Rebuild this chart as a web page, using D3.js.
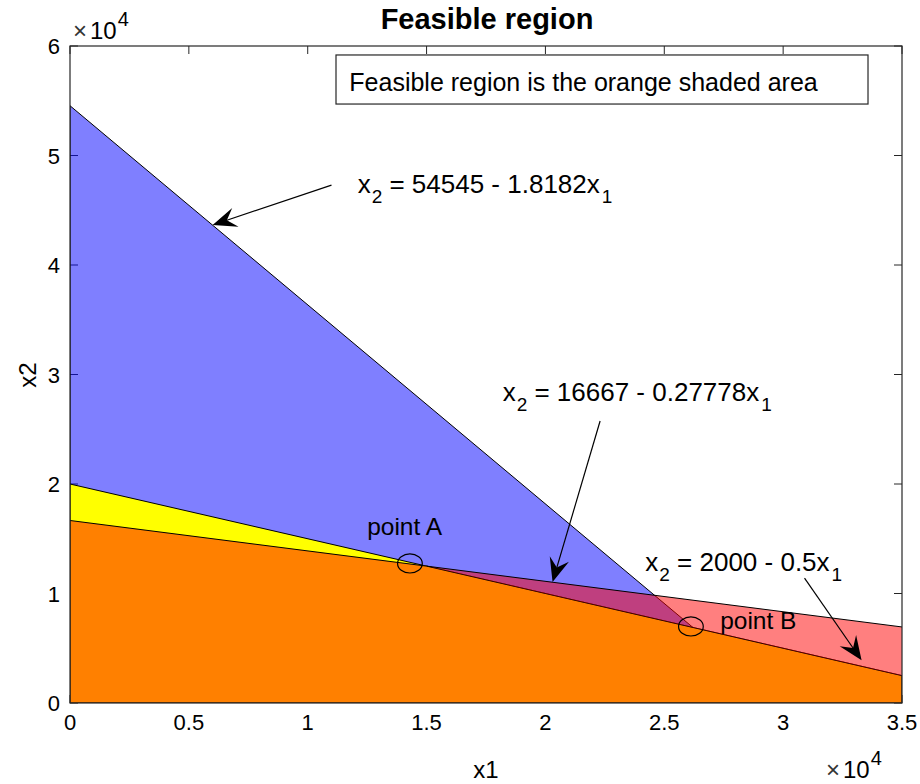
<!DOCTYPE html>
<html>
<head>
<meta charset="utf-8">
<script src="https://cdn.jsdelivr.net/npm/d3@7"></script>
<style>
  body { margin: 0; background: #fff; }
  text { font-family: "Liberation Sans", Arial, Helvetica, sans-serif; fill: #000; }
</style>
</head>
<body>
<svg id="chart"></svg>
<script>
// axis ticks
const xTicks = [0, 5000, 10000, 15000, 20000, 25000, 30000, 35000];
const xTickLabels = ['0', '0.5', '1', '1.5', '2', '2.5', '3', '3.5'];
const yTicks = [0, 10000, 20000, 30000, 40000, 50000, 60000];
const yTickLabels = ['0', '1', '2', '3', '4', '5', '6'];

// constraint lines x2 = intercept + slope * x1
const lineIntercepts = [54545, 16667, 20000];
const lineSlopes = [-1.8182, -0.27778, -0.5];
const lineLabels = ['54545 - 1.8182', '16667 - 0.27778', '2000 - 0.5'];
const labelX = [12100, 18200, 24200];
const labelY = [46600, 27600, 12050];
const arrowTailX = [11000, 22300, 30900];
const arrowTailY = [47300, 25750, 11400];
const arrowHeadX = [6000, 20300, 33300];
const arrowHeadY = [43650, 11050, 3900];

// corner points
const pointNames = ['point A', 'point B'];
const pointX = [14300, 26120];
const pointY = [12740, 6990];
const pointLabelX = [12500, 27350];
const pointLabelY = [15300, 6800];

const W = 920, H = 784;
const margin = { top: 46, right: 18, bottom: 81, left: 70 };
const iw = W - margin.left - margin.right;
const ih = H - margin.top - margin.bottom;

const svg = d3.select('#chart').attr('width', W).attr('height', H);

const x = d3.scaleLinear().domain([0, 35000]).range([0, iw]);
const y = d3.scaleLinear().domain([0, 60000]).range([ih, 0]);

const g = svg.append('g').attr('transform', `translate(${margin.left},${margin.top})`);

svg.append('defs').append('clipPath').attr('id', 'plotclip')
  .append('rect').attr('width', iw).attr('height', ih);

// ticks go under the patches (matlab layer bottom)
const tickLen = 8;
const ticks = g.append('g').attr('stroke', '#262626').attr('stroke-width', 1);
xTicks.forEach(t => {
  ticks.append('line').attr('x1', x(t)).attr('x2', x(t)).attr('y1', ih).attr('y2', ih - tickLen);
  ticks.append('line').attr('x1', x(t)).attr('x2', x(t)).attr('y1', 0).attr('y2', tickLen);
});
yTicks.forEach(t => {
  ticks.append('line').attr('x1', 0).attr('x2', tickLen).attr('y1', y(t)).attr('y2', y(t));
  ticks.append('line').attr('x1', iw).attr('x2', iw - tickLen).attr('y1', y(t)).attr('y2', y(t));
});

const f = (i, v) => lineIntercepts[i] + lineSlopes[i] * v;
const cross = (i, j) => (lineIntercepts[j] - lineIntercepts[i]) / (lineSlopes[i] - lineSlopes[j]);
const xMax = 35000;
const xA = cross(1, 2);

const polys = [
  { pts: [[0, 0], [0, f(0, 0)], [-lineIntercepts[0] / lineSlopes[0], 0]], fill: 'rgba(0,0,255,0.5)', stroke: '#000' },
  { pts: [[0, 0], [0, f(2, 0)], [xMax, f(2, xMax)], [xMax, 0]], fill: '#ffff00', stroke: '#000' },
  { pts: [[0, 0], [0, f(1, 0)], [xA, f(1, xA)], [xMax, f(2, xMax)], [xMax, 0]], fill: '#ff8000', stroke: '#000' },
  { pts: [[xA, f(1, xA)], [xMax, f(1, xMax)], [xMax, f(2, xMax)]], fill: 'rgba(255,0,0,0.5)', stroke: 'none' },
];

const line = d3.line().x(d => x(d[0])).y(d => y(d[1]));
const plot = g.append('g').attr('clip-path', 'url(#plotclip)');

plot.selectAll('path.patch')
  .data(polys)
  .join('path')
  .attr('class', 'patch')
  .attr('d', d => line(d.pts) + 'Z')
  .attr('fill', d => d.fill)
  .attr('stroke', d => d.stroke)
  .attr('stroke-width', 1);

// top edge of the red patch
plot.append('path')
  .attr('d', line([[xA, f(1, xA)], [xMax, f(1, xMax)]]))
  .attr('stroke', '#000').attr('fill', 'none');

// ellipses around the corner points
plot.selectAll('ellipse')
  .data(pointX)
  .join('ellipse')
  .attr('cx', d => x(d))
  .attr('cy', (d, i) => y(pointY[i]))
  .attr('rx', x(520) - x(0))
  .attr('ry', y(0) - y(870))
  .attr('fill', 'none')
  .attr('stroke', '#000')
  .attr('stroke-width', 1.2);

// box
g.append('rect').attr('width', iw).attr('height', ih)
  .attr('fill', 'none').attr('stroke', '#262626').attr('stroke-width', 1.2);

// tick labels
g.selectAll('text.xt')
  .data(xTicks)
  .join('text')
  .attr('class', 'xt')
  .attr('x', d => x(d))
  .attr('y', ih + 27)
  .attr('text-anchor', 'middle')
  .style('font-size', '22px')
  .text((d, i) => xTickLabels[i]);

g.selectAll('text.yt')
  .data(yTicks)
  .join('text')
  .attr('class', 'yt')
  .attr('x', -10)
  .attr('y', d => y(d) + 8)
  .attr('text-anchor', 'end')
  .style('font-size', '22px')
  .text((d, i) => yTickLabels[i]);

// exponent markers
function expLabel(px, py) {
  const t = svg.append('text').attr('x', px).attr('y', py).style('font-size', '24px');
  t.append('tspan').text('\u00d7').style('font-size', '24px').style('fill', '#333');
  t.append('tspan').text('10').attr('dx', 3).style('font-size', '24px');
  t.append('tspan').text('4').attr('dy', -13).attr('dx', 1).style('font-size', '20px');
}
expLabel(73, 39);
expLabel(826, 778);

// axis labels
svg.append('text').attr('x', margin.left + iw / 2).attr('y', 778)
  .attr('text-anchor', 'middle').style('font-size', '24px').text('x1');
svg.append('text').attr('transform', 'translate(36,375) rotate(-90)')
  .attr('text-anchor', 'middle').style('font-size', '24px').text('x2');

// title
svg.append('text').attr('x', margin.left + iw / 2 + 1).attr('y', 29)
  .attr('text-anchor', 'middle').style('font-size', '29px').style('font-weight', 'bold')
  .text('Feasible region');

// legend-like text box
g.append('rect').attr('x', x(11190)).attr('y', y(59180))
  .attr('width', x(33570) - x(11190)).attr('height', y(54700) - y(59180))
  .attr('fill', '#fff').attr('stroke', '#262626').attr('stroke-width', 1.2);
g.append('text').attr('x', x(11750)).attr('y', y(55850))
  .style('font-size', '25px').text('Feasible region is the orange shaded area');

// arrows
const arrows = g.append('g');
lineLabels.forEach((lab, i) => {
  const x0 = x(arrowTailX[i]), y0 = y(arrowTailY[i]);
  const x1 = x(arrowHeadX[i]), y1 = y(arrowHeadY[i]);
  const ang = Math.atan2(y1 - y0, x1 - x0);
  const hl = 24, hw = 10, notch = 15;
  const ux = Math.cos(ang), uy = Math.sin(ang);
  const px = -uy, py = ux;
  arrows.append('line')
    .attr('x1', x0).attr('y1', y0)
    .attr('x2', x1 - ux * notch).attr('y2', y1 - uy * notch)
    .attr('stroke', '#000').attr('stroke-width', 1.2);
  const head = [
    [x1, y1],
    [x1 - ux * hl + px * hw, y1 - uy * hl + py * hw],
    [x1 - ux * notch, y1 - uy * notch],
    [x1 - ux * hl - px * hw, y1 - uy * hl - py * hw],
  ];
  arrows.append('path').attr('d', 'M' + head.map(p => p.join(',')).join('L') + 'Z')
    .attr('fill', '#000');

  const t = g.append('text').attr('x', x(labelX[i])).attr('y', y(labelY[i])).style('font-size', '26px');
  t.append('tspan').text('x');
  t.append('tspan').text('2').attr('dy', 10).attr('dx', 1).style('font-size', '19px');
  t.append('tspan').text(' = ' + lab + 'x').attr('dy', -10);
  t.append('tspan').text('1').attr('dy', 10).attr('dx', 2).style('font-size', '19px');
});

// point labels
g.selectAll('text.pl')
  .data(pointNames)
  .join('text')
  .attr('class', 'pl')
  .attr('x', (d, i) => x(pointLabelX[i]))
  .attr('y', (d, i) => y(pointLabelY[i]))
  .style('font-size', '24.5px')
  .text(d => d);
</script>
</body>
</html>
